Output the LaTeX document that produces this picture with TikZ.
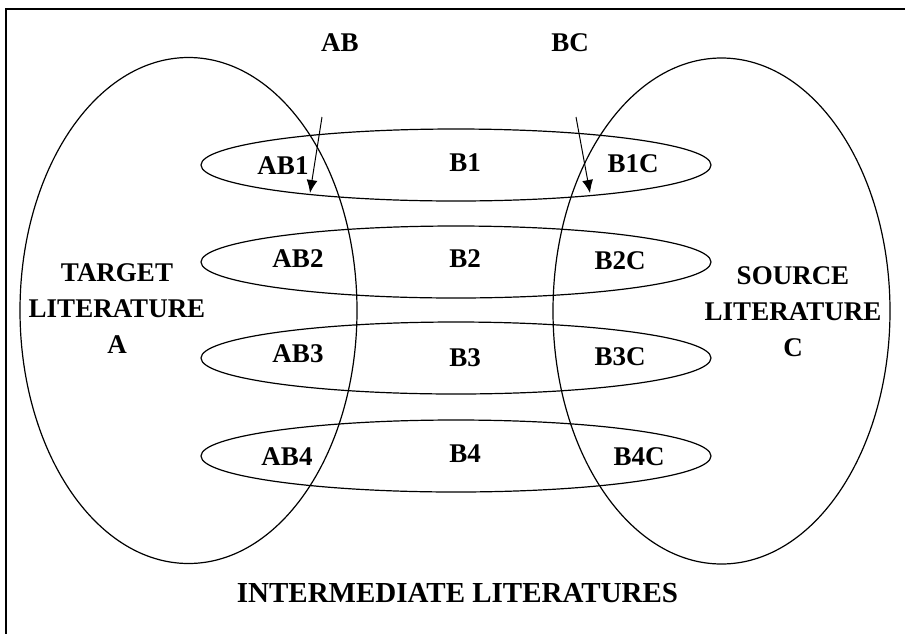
\documentclass[tikz,border=0pt]{standalone}
\usepackage{fontspec}
\setmainfont{Liberation Serif}
\usetikzlibrary{shapes.geometric,arrows.meta}
\begin{document}
\begin{tikzpicture}[x=1pt,y=-1pt,
  lbl/.style={font=\fontsize{27}{36}\selectfont\bfseries, anchor=base, inner sep=0pt},
  blocklbl/.style={font=\fontsize{27}{36}\selectfont\bfseries, align=center, inner sep=0pt},
  bigell/.style={draw, ellipse, line width=1.2pt, minimum width=337pt, minimum height=506pt, inner sep=0pt},
  smallell/.style={draw, ellipse, line width=1.2pt, minimum width=510pt, minimum height=72pt, inner sep=0pt},
  arrowline/.style={line width=1pt, -{Latex[length=13pt,width=11pt]}}]
\useasboundingbox (0,0) rectangle (905,633);
% frame (top and left only visible)
\draw[line width=1.5pt] (6,640) -- (6,9) -- (910,9);
% big ellipses
\node[bigell] (tgt) at (188.5,310.5) {};
\node[bigell] (src) at (721.5,311) {};
% intermediate ellipses
\node[smallell] (i1) at (456,165) {};
\node[smallell] (i2) at (456,262) {};
\node[smallell] (i3) at (456,358) {};
\node[smallell] (i4) at (456,456) {};
% labels
\node[lbl] (ab) at (340,51) {AB};
\node[lbl] (bc) at (570,51) {BC};
\node[lbl] (ab1) at (283,174) {AB1};
\node[lbl] (b1) at (465,171) {B1};
\node[lbl] (b1c) at (633,172) {B1C};
\node[lbl] (ab2) at (298,267) {AB2};
\node[lbl] (b2) at (465,267) {B2};
\node[lbl] (b2c) at (620,269) {B2C};
\node[lbl] (ab3) at (298,362) {AB3};
\node[lbl] (b3) at (465,366) {B3};
\node[lbl] (b3c) at (620,365) {B3C};
\node[lbl] (ab4) at (287,465) {AB4};
\node[lbl] (b4) at (465,462) {B4};
\node[lbl] (b4c) at (639,465) {B4C};
\node[blocklbl] (tgtlbl) at (117,309) {TARGET\\LITERATURE\\A};
\node[blocklbl] (srclbl) at (793,311.5) {SOURCE\\LITERATURE\\C};
\node[lbl, font=\fontsize{29}{36}\selectfont\bfseries] (inter) at (457.5,602.5) {INTERMEDIATE LITERATURES};
% arrows
\coordinate (abstart) at (322,117);
\coordinate (abtip) at (310,193);
\coordinate (bcstart) at (576,117);
\coordinate (bctip) at (590,193);
\draw[arrowline] (abstart) -- (abtip);
\draw[arrowline] (bcstart) -- (bctip);
\end{tikzpicture}
\end{document}
